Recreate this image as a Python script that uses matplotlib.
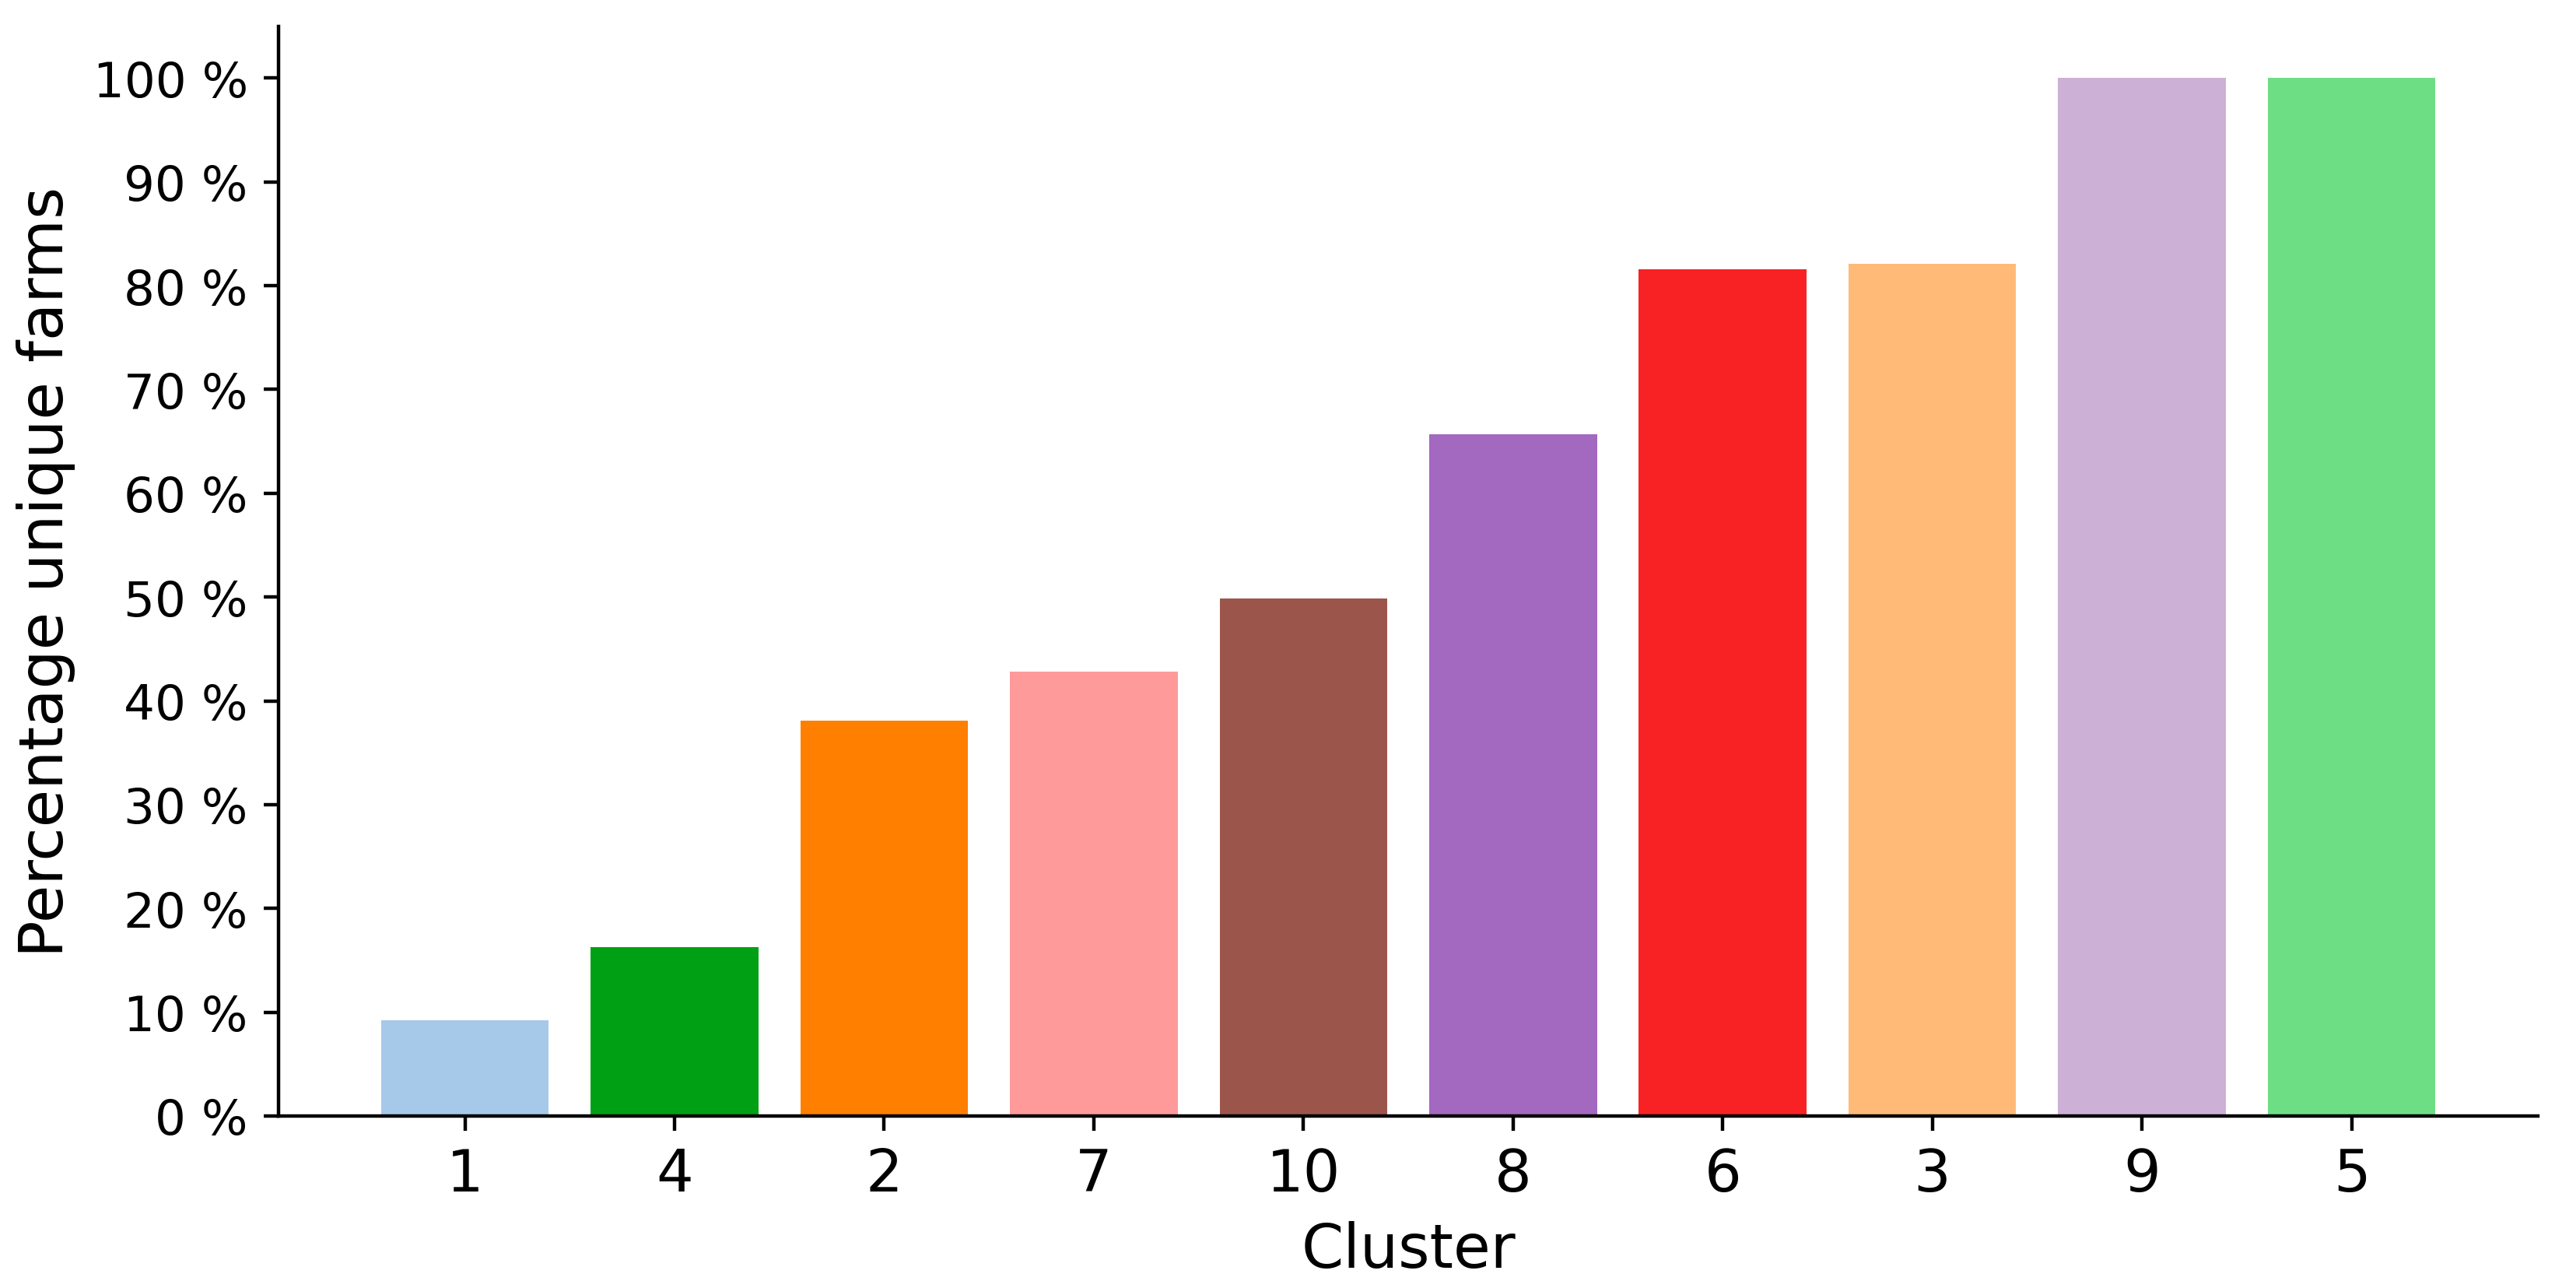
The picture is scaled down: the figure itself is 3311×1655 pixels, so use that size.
## Percentage of unique farms per cluster
import numpy as np
import matplotlib
matplotlib.use("Agg")
import matplotlib.pyplot as plt
from matplotlib.ticker import FuncFormatter

## -----------------------
## Data
clusters = ["1", "4", "2", "7", "10", "8", "6", "3", "9", "5"]
pct_unique = [9.2, 16.3, 38.1, 42.8, 49.9, 65.7, 81.6, 82.1, 100.0, 100.0]
bar_colors = ["#a6c8e9", "#00a015", "#ff7f00", "#fe9a9a", "#9c554a",
              "#a368c0", "#f82224", "#ffba77", "#cdb0d6", "#6ede84"]
y_ticks = np.arange(0, 101, 10)

## -----------------------
## Plot
fig = plt.figure(figsize=(8.28, 4.14), dpi=400)
ax = fig.add_axes([0.108, 0.1335, 0.877, 0.8455])

x = np.arange(len(clusters))
ax.bar(x, pct_unique, color=bar_colors)

ax.set_xticks(x)
ax.set_xticklabels(clusters, fontsize=13.5)
ax.set_yticks(y_ticks)
ax.yaxis.set_major_formatter(FuncFormatter(lambda v, p: "%d %%" % v))
ax.tick_params(axis="y", labelsize=11.3)

ax.set_xlabel("Cluster", fontsize=14)
ax.set_ylabel("Percentage unique farms", fontsize=14.2)

ax.spines["top"].set_visible(False)
ax.spines["right"].set_visible(False)

fig.savefig("out.png", dpi=400)
